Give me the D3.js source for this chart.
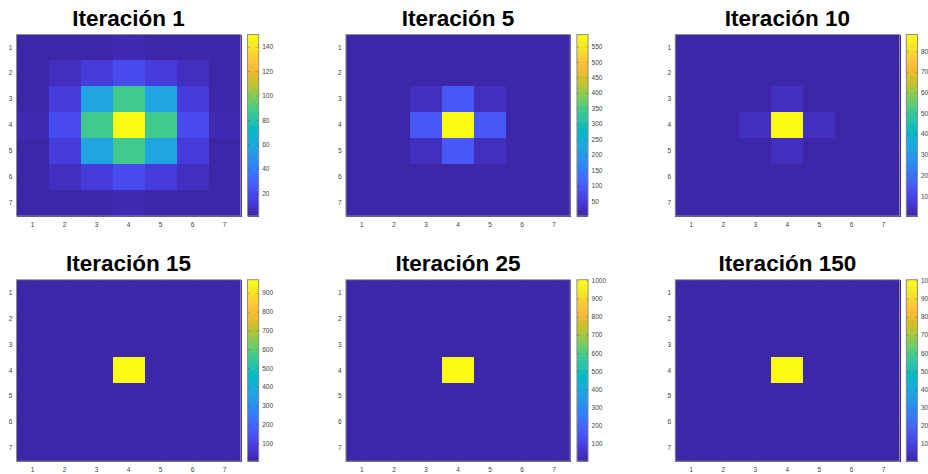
<!DOCTYPE html>
<html>
<meta charset="utf-8">
<head>
    <script src="https://cdn.jsdelivr.net/npm/d3@7"></script>
    <style>
        body { margin: 0; background: #fff; }
        text { font-family: "Liberation Sans", Arial, Helvetica, sans-serif; }
    </style>
</head>
<body>
<div id="center"></div>
<script>
// grid labels
var rows = [1, 2, 3, 4, 5, 6, 7];
var cols = [1, 2, 3, 4, 5, 6, 7];

var titles = ["Iteración 1", "Iteración 5", "Iteración 10",
              "Iteración 15", "Iteración 25", "Iteración 150"];

// values (7x7 each)
var iter1 = [
    [1.3, 2.5, 3.5, 4, 3.5, 2.5, 1.3],
    [2.5, 7.5, 15, 22, 15, 7.5, 2.5],
    [3.5, 15, 58, 89, 58, 15, 3.5],
    [4, 22, 89, 150, 89, 22, 4],
    [3.5, 15, 58, 89, 58, 15, 3.5],
    [2.5, 7.5, 15, 22, 15, 7.5, 2.5],
    [1.3, 2.5, 3.5, 4, 3.5, 2.5, 1.3]
];
var iter5 = [
    [1.4, 1.5, 2, 2.5, 2, 1.5, 1.4],
    [1.5, 2.5, 4, 6, 4, 2.5, 1.5],
    [2, 4, 24, 94, 24, 4, 2],
    [2.5, 6, 94, 589, 94, 6, 2.5],
    [2, 4, 24, 94, 24, 4, 2],
    [1.5, 2.5, 4, 6, 4, 2.5, 1.5],
    [1.4, 1.5, 2, 2.5, 2, 1.5, 1.4]
];
var iter10 = [
    [3, 3, 3, 3, 3, 3, 3],
    [3, 3, 3, 4, 3, 3, 3],
    [3, 3, 6, 35, 6, 3, 3],
    [3, 4, 35, 880, 35, 4, 3],
    [3, 3, 6, 35, 6, 3, 3],
    [3, 3, 3, 4, 3, 3, 3],
    [3, 3, 3, 3, 3, 3, 3]
];
var iter15 = [
    [4, 4, 4, 4, 4, 4, 4],
    [4, 4, 4, 4, 4, 4, 4],
    [4, 4, 4, 13, 4, 4, 4],
    [4, 4, 13, 970, 13, 4, 4],
    [4, 4, 4, 13, 4, 4, 4],
    [4, 4, 4, 4, 4, 4, 4],
    [4, 4, 4, 4, 4, 4, 4]
];
var iter25 = [
    [4, 4, 4, 4, 4, 4, 4],
    [4, 4, 4, 4, 4, 4, 4],
    [4, 4, 4, 4.5, 4, 4, 4],
    [4, 4, 4.5, 1004, 4.5, 4, 4],
    [4, 4, 4, 4.5, 4, 4, 4],
    [4, 4, 4, 4, 4, 4, 4],
    [4, 4, 4, 4, 4, 4, 4]
];
var iter150 = [
    [4, 4, 4, 4, 4, 4, 4],
    [4, 4, 4, 4, 4, 4, 4],
    [4, 4, 4, 4, 4, 4, 4],
    [4, 4, 4, 1004, 4, 4, 4],
    [4, 4, 4, 4, 4, 4, 4],
    [4, 4, 4, 4, 4, 4, 4],
    [4, 4, 4, 4, 4, 4, 4]
];

// colorbar tick labels
var ticks1 = [20, 40, 60, 80, 100, 120, 140];
var ticks5 = [50, 100, 150, 200, 250, 300, 350, 400, 450, 500, 550];
var ticks10 = [100, 200, 300, 400, 500, 600, 700, 800];
var ticks15 = [100, 200, 300, 400, 500, 600, 700, 800, 900];
var ticks25 = [100, 200, 300, 400, 500, 600, 700, 800, 900, 1000];
var ticks150 = [100, 200, 300, 400, 500, 600, 700, 800, 900, 1000];

var grids = [iter1, iter5, iter10, iter15, iter25, iter150];
var tickSets = [ticks1, ticks5, ticks10, ticks15, ticks25, ticks150];

// parula (every 3rd entry of the 64 colour map)
var parula = ["#3e26a8", "#4432cb", "#4741e5", "#4852f4", "#4563fd", "#3875fe",
              "#2e87f7", "#2796eb", "#20a5e3", "#12b1d6", "#02bac3", "#24c1ae",
              "#37c897", "#57cc7a", "#81cc59", "#abc739", "#d1bf27", "#f0ba36",
              "#fec338", "#fad62d", "#f5e924", "#f9fb15"];
var cmap = d3.piecewise(d3.interpolateRgb, parula);
var nColors = 64;

var W = 224.2, H = 181.5;
var lefts = [16.5, 345.9, 675.3];
var tops = [34.5, 279.7];

var svg = d3.select("#center")
    .append("svg")
    .attr("width", 928)
    .attr("height", 474);

svg.append("rect").attr("width", 928).attr("height", 474).attr("fill", "#fff");

function styleAxis(g) {
    g.select(".domain").remove();
    g.selectAll(".tick line").attr("stroke", "#262626").attr("stroke-opacity", 0.55).attr("stroke-width", 0.6);
    g.selectAll(".tick text").attr("fill", "#404040").attr("font-size", "6.5px")
        .attr("font-family", "Liberation Sans, Arial, sans-serif");
}

grids.forEach(function(grid, i) {
    var left = lefts[i % 3];
    var top = tops[Math.floor(i / 3)];
    var g = svg.append("g");

    var x = d3.scaleBand().domain(cols).range([left, left + W]);
    var y = d3.scaleBand().domain(rows).range([top, top + H]);

    var cells = [];
    grid.forEach(function(r, ri) {
        r.forEach(function(v, ci) {
            cells.push({ "row": rows[ri], "col": cols[ci], "v": v });
        });
    });
    var ext = d3.extent(cells, function(d) { return d.v; });
    var cmin = ext[0], cmax = ext[1];

    function colorOf(v) {
        var k = Math.floor((v - cmin) / (cmax - cmin) * nColors);
        k = Math.max(0, Math.min(nColors - 1, k));
        return cmap(k / (nColors - 1));
    }

    g.selectAll("rect.cell")
        .data(cells)
        .enter()
        .append("rect")
        .attr("class", "cell")
        .attr("shape-rendering", "crispEdges")
        .attr("x", function(d) { return x(d.col); })
        .attr("y", function(d) { return y(d.row); })
        .attr("width", x.bandwidth() + 1)
        .attr("height", y.bandwidth() + 1)
        .attr("fill", function(d) { return colorOf(d.v); });

    // axes, ticks inward on all four sides
    g.append("g").attr("transform", "translate(0," + (top + H) + ")")
        .call(d3.axisBottom(x).tickSizeInner(-2.2).tickSizeOuter(0).tickPadding(6.5))
        .call(styleAxis);
    g.append("g").attr("transform", "translate(" + left + ",0)")
        .call(d3.axisLeft(y).tickSizeInner(-2.2).tickSizeOuter(0).tickPadding(4.2))
        .call(styleAxis);
    g.append("g").attr("transform", "translate(0," + top + ")")
        .call(d3.axisTop(x).tickSizeInner(-2.2).tickSizeOuter(0).tickFormat(""))
        .call(styleAxis);
    g.append("g").attr("transform", "translate(" + (left + W) + ",0)")
        .call(d3.axisRight(y).tickSizeInner(-2.2).tickSizeOuter(0).tickFormat(""))
        .call(styleAxis);

    g.append("rect")
        .attr("x", left).attr("y", top)
        .attr("width", W).attr("height", H)
        .attr("fill", "none")
        .attr("stroke", "#8f8f8f")
        .attr("stroke-width", 1);

    // colorbar
    var cx = left + W + 6.8, cw = 11.2;
    var cs = d3.scaleLinear().domain([cmin, cmax]).range([top + H, top]);

    g.selectAll("rect.band")
        .data(d3.range(nColors))
        .enter()
        .append("rect")
        .attr("class", "band")
        .attr("shape-rendering", "crispEdges")
        .attr("x", cx)
        .attr("y", function(k) { return cs(cmin + (k + 1) / nColors * (cmax - cmin)); })
        .attr("width", cw)
        .attr("height", H / nColors + 1)
        .attr("fill", function(k) { return cmap(k / (nColors - 1)); });

    g.append("g").attr("transform", "translate(" + (cx + cw) + ",0)")
        .call(d3.axisRight(cs).tickValues(tickSets[i]).tickFormat(d3.format("d"))
            .tickSizeInner(-2).tickSizeOuter(0).tickPadding(3.5))
        .call(styleAxis);
    g.append("g").attr("transform", "translate(" + cx + ",0)")
        .call(d3.axisLeft(cs).tickValues(tickSets[i]).tickSizeInner(-2).tickSizeOuter(0).tickFormat(""))
        .call(styleAxis);

    g.append("rect")
        .attr("x", cx).attr("y", top)
        .attr("width", cw).attr("height", H)
        .attr("fill", "none")
        .attr("stroke", "#8f8f8f")
        .attr("stroke-width", 1);

    // title
    g.append("text")
        .attr("x", left + W / 2)
        .attr("y", top - 8.6)
        .attr("text-anchor", "middle")
        .attr("font-size", "22.5px")
        .attr("font-weight", "bold")
        .attr("fill", "#000")
        .text(titles[i]);
});
</script>
</body>
</html>
